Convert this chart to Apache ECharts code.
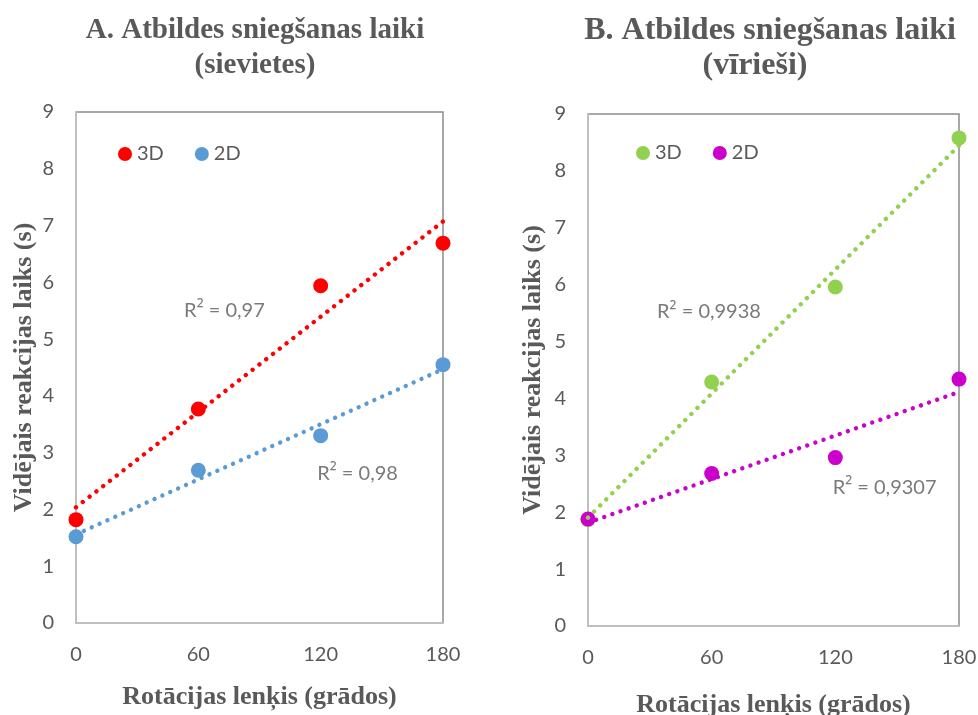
<!DOCTYPE html>
<html>
<head>
<meta charset="utf-8">
<script src="https://cdn.jsdelivr.net/npm/echarts@6/dist/echarts.min.js"></script>
<style>
  html, body { margin: 0; padding: 0; background: #ffffff; }
  #chart { width: 978px; height: 715px; }
</style>
</head>
<body>
<div id="chart"></div>
<script>
// Rotation angle (degrees) shared by both panels
const angles = [0, 60, 120, 180];

// Mean response times (s), women
const women3D = [1.82, 3.77, 5.94, 6.69];
const women2D = [1.52, 2.69, 3.30, 4.55];

// Mean response times (s), men
const men3D = [1.87, 4.29, 5.96, 8.58];
const men2D = [1.88, 2.68, 2.96, 4.34];

// Coefficients of determination of the linear trends
const r2Women = ['R² = 0,97', 'R² = 0,98'];
const r2Men = ['R² = 0,9938', 'R² = 0,9307'];

// Where the R² notes sit, in data units [angle, seconds]
const r2WomenAt = [[72.8, 5.51], [138.1, 2.64]];
const r2MenAt = [[58.7, 5.52], [143.9, 2.43]];

const titleLines = [
  ['A. Atbildes sniegšanas laiki', '(sievietes)'],
  ['B. Atbildes sniegšanas laiki', '(vīrieši)']
];
const yName = 'Vidējais reakcijas laiks (s)';
const xName = 'Rotācijas lenķis (grādos)';
const seriesNames = ['3D', '2D'];

const TEXT = '#595959';
const SANS = 'Lato, "Open Sans", sans-serif';
const SERIF = '"Liberation Serif", "DejaVu Serif", serif';

// Least-squares line evaluated at both ends of the angle axis
function trend(xs, ys) {
  const n = xs.length;
  const mx = xs.reduce((a, b) => a + b, 0) / n;
  const my = ys.reduce((a, b) => a + b, 0) / n;
  let sxy = 0, sxx = 0;
  for (let i = 0; i < n; i++) {
    sxy += (xs[i] - mx) * (ys[i] - my);
    sxx += (xs[i] - mx) * (xs[i] - mx);
  }
  const slope = sxy / sxx;
  const icpt = my - slope * mx;
  const x0 = xs[0], x1 = xs[n - 1];
  return [[x0, icpt + slope * x0], [x1, icpt + slope * x1]];
}

function pairs(ys) { return angles.map((a, i) => [a, ys[i]]); }

const panels = [
  { grid: { left: 76, top: 112, width: 367, height: 511 }, s3: women3D, s2: women2D,
    c3: '#ff0000', c2: '#5b9bd5', r2: r2Women, r2At: r2WomenAt, xGap: 61, yGap: 39,
    legendLeft: 118, legendTop: 144,
    titleSize: 29, titleX: [255, 255] },
  { grid: { left: 588, top: 114, width: 371, height: 512 }, s3: men3D, s2: men2D,
    c3: '#92d050', c2: '#cc00cc', r2: r2Men, r2At: r2MenAt, xGap: 66, yGap: 42,
    legendLeft: 636, legendTop: 143,
    titleSize: 32, titleX: [770, 755] }
];

const option = {
  animation: false,
  backgroundColor: '#ffffff',
  title: [],
  legend: [],
  grid: [],
  xAxis: [],
  yAxis: [],
  series: []
};

panels.forEach((p, k) => {
  titleLines[k].forEach((line, j) => {
    option.title.push({
      text: line,
      left: p.titleX[j], top: 13 + j * 35, textAlign: 'center', padding: 0,
      textStyle: { fontFamily: SERIF, fontWeight: 'bold', fontSize: p.titleSize, color: TEXT, lineHeight: 35 }
    });
  });
  option.grid.push(Object.assign({ show: true, borderColor: '#8c8c8c', borderWidth: 1.5,
    backgroundColor: 'transparent', containLabel: false, outerBoundsMode: 'none' }, p.grid));
  option.xAxis.push({
    gridIndex: k, type: 'value', min: 0, max: 180, interval: 60,
    name: xName, nameLocation: 'middle', nameGap: p.xGap,
    nameTextStyle: { fontFamily: SERIF, fontWeight: 'bold', fontSize: 26, color: TEXT },
    axisLine: { show: true, onZero: false, lineStyle: { color: '#bfbfbf', width: 2 } },
    axisTick: { show: false },
    splitLine: { show: false },
    axisLabel: { fontFamily: SANS, fontSize: 20, color: TEXT, margin: 22 }
  });
  option.yAxis.push({
    gridIndex: k, type: 'value', min: 0, max: 9, interval: 1,
    name: yName, nameLocation: 'middle', nameGap: p.yGap,
    nameTextStyle: { fontFamily: SERIF, fontWeight: 'bold', fontSize: 26, color: TEXT },
    axisLine: { show: true, onZero: false, lineStyle: { color: '#bfbfbf', width: 2 } },
    axisTick: { show: false },
    splitLine: { show: false },
    axisLabel: { fontFamily: SANS, fontSize: 20, color: TEXT, margin: 22 }
  });

  const n3 = 'p' + k + '·' + seriesNames[0];
  const n2 = 'p' + k + '·' + seriesNames[1];
  option.legend.push({
    data: [n3, n2], left: p.legendLeft, top: p.legendTop, padding: 0,
    icon: 'circle', itemWidth: 14, itemHeight: 14, itemGap: 31, itemTextGap: 5,
    formatter: name => name.split('·')[1],
    textStyle: { fontFamily: SANS, fontSize: 20, color: TEXT },
    selectedMode: false
  });

  const dotted = c => ({ color: c, width: 4.4, type: [0.01, 8.6], cap: 'round' });
  [[p.s3, p.c3, n3], [p.s2, p.c2, n2]].forEach(([ys, c, nm]) => {
    option.series.push({
      type: 'scatter', name: nm, xAxisIndex: k, yAxisIndex: k,
      data: pairs(ys), symbol: 'circle', symbolSize: 15,
      itemStyle: { color: c, opacity: 1 }, z: 3
    });
  });
  [[p.s3, p.c3], [p.s2, p.c2]].forEach(([ys, c]) => {
    option.series.push({
      type: 'line', xAxisIndex: k, yAxisIndex: k,
      data: trend(angles, ys), showSymbol: false, symbol: 'none',
      lineStyle: dotted(c), silent: true, z: 4
    });
  });
  option.series.push({
    type: 'scatter', xAxisIndex: k, yAxisIndex: k, silent: true,
    data: p.r2At.map((pt, i) => ({ value: pt, note: p.r2[i] })),
    symbolSize: 1, itemStyle: { color: 'rgba(0,0,0,0)' },
    label: { show: true, position: 'inside',
      formatter: d => d.data.note.replace('²', '{s|²}'),
      fontFamily: SANS, fontSize: 20, color: TEXT,
      rich: { s: { fontFamily: '"Open Sans", sans-serif', fontSize: 20, color: TEXT } } },
    z: 5
  });
});

const chart = echarts.init(document.getElementById('chart'), null, { renderer: 'canvas' });
chart.setOption(option);
</script>
</body>
</html>
